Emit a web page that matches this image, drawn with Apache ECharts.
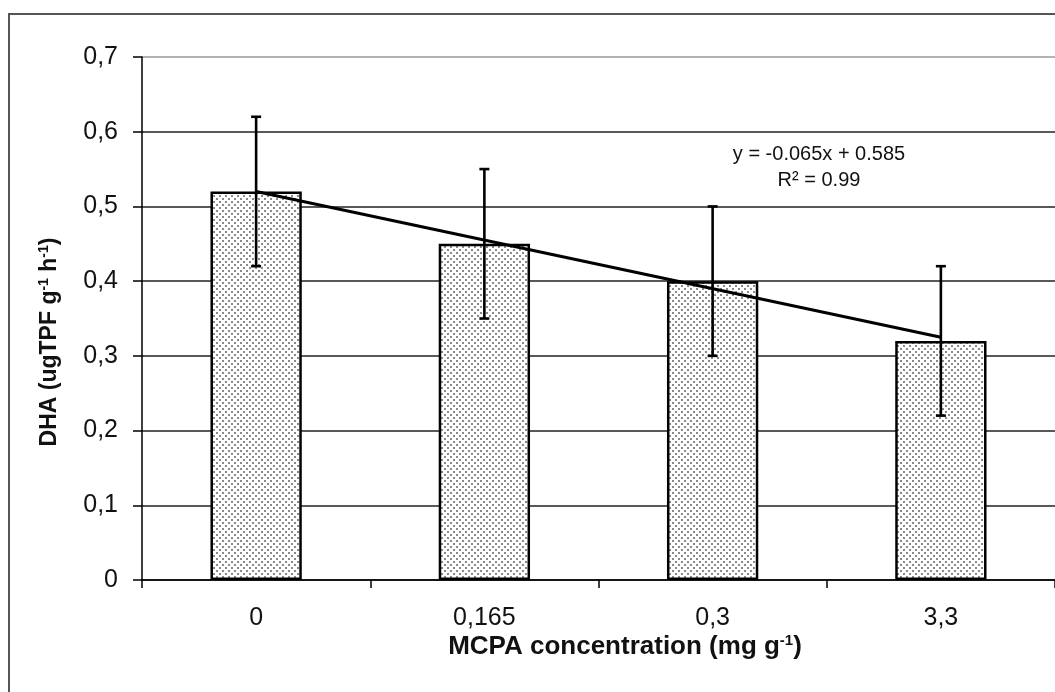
<!DOCTYPE html>
<html>
<head>
<meta charset="utf-8">
<script src="https://cdn.jsdelivr.net/npm/echarts@6/dist/echarts.min.js"></script>
<style>
html,body{margin:0;padding:0;background:#fff;}
#chart{width:1055px;height:692px;}
</style>
</head>
<body>
<div id="chart"></div>
<script>
// ---- data ----
const categories = ['0', '0,165', '0,3', '3,3'];
const dhaValues = [0.52, 0.45, 0.40, 0.32];
const errUpper = [0.62, 0.55, 0.50, 0.42];
const errLower = [0.42, 0.35, 0.30, 0.22];
const trendStart = 0.52;   // trend line value at first category
const trendEnd = 0.325;    // trend line value at last category
const yTicks = [0, 0.1, 0.2, 0.3, 0.4, 0.5, 0.6, 0.7];
const equationText = 'y = -0.065x + 0.585';
const r2Text = 'R² = 0.99';

// dotted pattern fill
function makePattern() {
  const c = document.createElement('canvas');
  c.width = 6; c.height = 6;
  const ctx = c.getContext('2d');
  ctx.fillStyle = '#ffffff';
  ctx.fillRect(0, 0, 6, 6);
  ctx.fillStyle = '#8a8a8a';
  ctx.fillRect(0, 0, 2, 2);
  ctx.fillRect(3, 3, 2, 2);
  return c;
}
const pattern = { image: makePattern(), repeat: 'repeat' };

const errData = categories.map((c, i) => [i, errLower[i], errUpper[i]]);
const trendData = [[0, trendStart], [categories.length - 1, trendEnd]];

const chart = echarts.init(document.getElementById('chart'));
const font = '"Liberation Sans", Arial, sans-serif';

const gridColors = yTicks.map((t, i) => i === yTicks.length - 1 ? '#9a9a9a' : '#222');

chart.setOption({
  animation: false,
  backgroundColor: '#fff',
  textStyle: { fontFamily: font },
  grid: { left: 142, top: 57, right: -3, bottom: 112, containLabel: false },
  xAxis: {
    type: 'category',
    data: categories,
    axisLine: { lineStyle: { color: '#000', width: 1.5 } },
    axisTick: { show: true, length: 8, lineStyle: { color: '#000', width: 1.5 } },
    axisLabel: { color: '#111', fontSize: 25, fontFamily: font, margin: 26 }
  },
  yAxis: {
    type: 'value',
    min: 0, max: 0.7, interval: 0.1,
    axisLine: { show: true, lineStyle: { color: '#000', width: 1.5 } },
    axisTick: { show: true, length: 9, lineStyle: { color: '#000', width: 1.5 } },
    axisLabel: {
      color: '#111', fontSize: 25, fontFamily: font, margin: 24,
      formatter: v => {
        const t = yTicks.find(x => Math.abs(x - v) < 1e-9);
        return t === 0 ? '0' : (t !== undefined ? t : v).toFixed(1).replace('.', ',');
      }
    },
    splitLine: { show: true, lineStyle: { color: gridColors, width: 1.5 } }
  },
  series: [
    {
      type: 'bar',
      data: dhaValues,
      barWidth: '40%',
      itemStyle: { color: pattern, borderColor: '#000', borderWidth: 2.5 },
      z: 2
    },
    {
      type: 'line',
      data: trendData,
      symbol: 'none',
      lineStyle: { color: '#000', width: 3 },
      z: 3
    },
    {
      type: 'custom',
      data: errData,
      z: 4,
      renderItem: (params, api) => {
        const x = api.value(0);
        const lo = api.coord([x, api.value(1)]);
        const hi = api.coord([x, api.value(2)]);
        const cap = 5;
        const style = { stroke: '#000', lineWidth: 2.6 };
        return {
          type: 'group',
          children: [
            { type: 'line', shape: { x1: lo[0], y1: lo[1], x2: hi[0], y2: hi[1] }, style },
            { type: 'line', shape: { x1: hi[0] - cap, y1: hi[1], x2: hi[0] + cap, y2: hi[1] }, style },
            { type: 'line', shape: { x1: lo[0] - cap, y1: lo[1], x2: lo[0] + cap, y2: lo[1] }, style }
          ]
        };
      }
    }
  ],
  graphic: [
    { type: 'rect', shape: { x: 9, y: 14, width: 1200, height: 900 }, style: { fill: 'none', stroke: '#555', lineWidth: 2 }, silent: true, z: 10 },
    { type: 'text', x: 819, y: 154, style: { text: equationText, font: '20px ' + font, fill: '#111', textAlign: 'center', textVerticalAlign: 'middle' }, z: 10 },
    { type: 'text', x: 819, y: 180, style: { text: r2Text, font: '20px ' + font, fill: '#111', textAlign: 'center', textVerticalAlign: 'middle' }, z: 10 },
    {
      type: 'text', x: 625, y: 647, z: 10,
      style: {
        text: '{t|MCPA concentration (mg g}{s|-1}{t|)}',
        textAlign: 'center', textVerticalAlign: 'middle',
        rich: {
          t: { fontSize: 26, fontWeight: 'bold', fill: '#111', fontFamily: font, lineHeight: 28 },
          s: { fontSize: 15, fontWeight: 'bold', fill: '#111', fontFamily: font, verticalAlign: 'top', lineHeight: 28 }
        }
      }
    },
    {
      type: 'text', x: 50, y: 342, rotation: Math.PI / 2, z: 10,
      style: {
        text: '{t|DHA (ugTPF g}{s|-1}{t| h}{s|-1}{t|)}',
        textAlign: 'center', textVerticalAlign: 'middle',
        rich: {
          t: { fontSize: 23, fontWeight: 'bold', fill: '#111', fontFamily: font, lineHeight: 26 },
          s: { fontSize: 14, fontWeight: 'bold', fill: '#111', fontFamily: font, verticalAlign: 'top', lineHeight: 26 }
        }
      }
    }
  ]
});
</script>
</body>
</html>
